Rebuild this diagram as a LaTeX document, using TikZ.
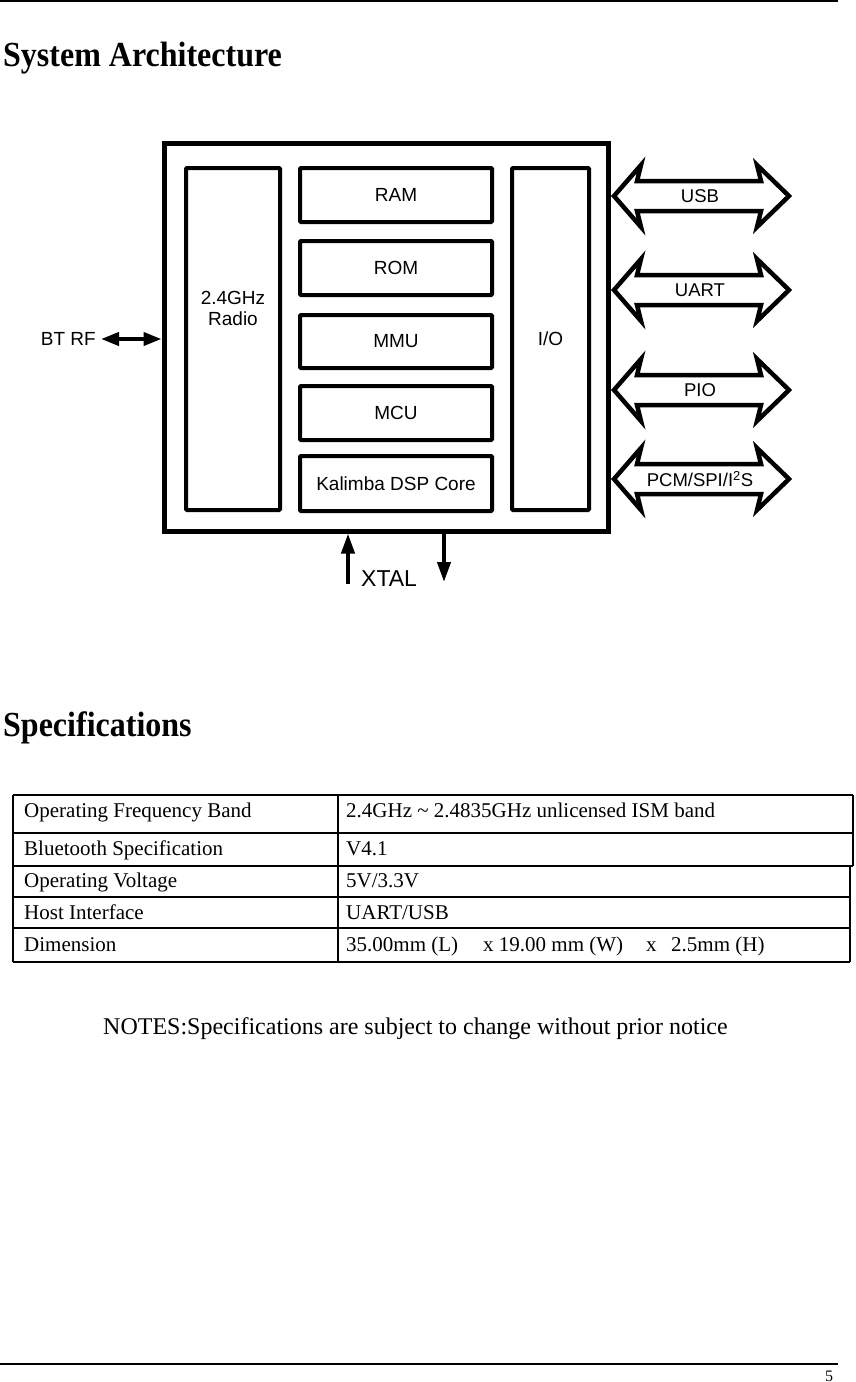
\documentclass[tikz,border=0pt]{standalone}
\usepackage{fontspec}
\setmainfont{Liberation Serif}
\newfontfamily\arialf{Liberation Sans}
\usetikzlibrary{arrows.meta}
\newcommand\bararrow[3]{%
  \draw[barrow] (614,#2) -- (641,#2-31) -- (637,#2-15) -- (761,#2-15) -- (757,#2-31) -- (789,#2)
     -- (757,#2+31) -- (761,#2+15) -- (637,#2+15) -- (641,#2+31) -- cycle;
  \node[albl] (#1) at (700,#2) {#3};}
\begin{document}
\begin{tikzpicture}[x=1pt,y=-1pt,
  blk/.style={draw, line width=4pt, rounded corners=1pt, inner sep=0pt, font=\arialf\fontsize{19}{21}\selectfont, align=center},
  lbl/.style={inner sep=0pt, font=\arialf\fontsize{19}{21}\selectfont, align=center},
  albl/.style={inner sep=0pt, font=\arialf\fontsize{18.5}{21}\selectfont, align=center},
  headtxt/.style={inner sep=0pt, anchor=base west, font=\bfseries\fontsize{32}{36}\selectfont},
  cell/.style={inner sep=0pt, anchor=base west, font=\fontsize{21}{24}\selectfont},
  barrow/.style={line width=4.5pt, line join=miter, fill=white},
  rfarrow/.style={line width=4pt, {Triangle[length=18pt,width=13pt]}-{Triangle[length=18pt,width=13pt]}},
  xarrow/.style={line width=4pt, -{Triangle[length=20pt,width=13pt]}},
  tline/.style={line width=2.5pt},
  pline/.style={line width=2pt}
]
\fill[white] (0,0) rectangle (855,1382);
\useasboundingbox (0,0) rectangle (855,1382);

% page rules
\draw[pline] (0,1) -- (838,1);
\draw[pline] (0,1364) -- (838,1364);
\node[inner sep=0pt, anchor=base west, font=\fontsize{16}{18}\selectfont] (pnum) at (825,1381) {5};

% headings
\node[headtxt] (h1) at (3,66) {\scalebox{1}[1.1]{System Architecture}};
\node[headtxt] (h2) at (3,736) {\scalebox{1}[1.1]{Specifications}};

% diagram
\node[draw, line width=5pt, minimum width=444pt, minimum height=388pt, inner sep=0pt] (outer) at (386,337) {};
\node[blk, minimum width=94pt, minimum height=342pt] (radio) at (233,339) {};
\node[lbl] (radiot) at (233,308) {2.4GHz\\Radio};
\node[blk, minimum width=192pt, minimum height=54pt] (ram) at (396,195) {RAM};
\node[blk, minimum width=192pt, minimum height=54pt] (rom) at (396,268) {ROM};
\node[blk, minimum width=192pt, minimum height=53pt] (mmu) at (396,341.5) {MMU};
\node[blk, minimum width=192pt, minimum height=54pt] (mcu) at (396,413) {MCU};
\node[blk, minimum width=192pt, minimum height=55pt] (dsp) at (396,483.5) {Kalimba DSP Core};
\node[blk, minimum width=77pt, minimum height=342pt] (io) at (550.5,339) {I/O};

\bararrow{usb}{196}{USB}
\bararrow{uart}{290}{UART}
\bararrow{pio}{390}{PIO}
\bararrow{pcm}{479}{PCM/SPI/I\textsuperscript{2}S}

\node[lbl, anchor=east] (btrf) at (96,339) {BT RF};
\draw[rfarrow] ([xshift=5pt]btrf.east) -- (btrf.east -| outer.west);

\node[inner sep=0pt, anchor=base west, font=\arialf\fontsize{23}{26}\selectfont] (xtal) at (361,586) {XTAL};
\coordinate (xin) at (348,584);
\coordinate (xout) at (444,582);
\draw[xarrow] (xin) -- (xin |- outer.south);
\draw[xarrow] (xout |- outer.south) -- (xout);

% table
\draw[tline] (13,795) -- (853,795);
\draw[tline] (13,795) -- (13,962);
\draw[tline] (853,795) -- (853,866);
\draw[tline] (850,866) -- (850,962);
\draw[tline] (13,962) -- (850,962);
\draw[tline] (338,795) -- (338,962);
\draw[tline] (13,833) -- (853,833);
\draw[tline] (13,866) -- (853,866);
\draw[tline] (13,897) -- (850,897);
\draw[tline] (13,928) -- (850,928);

\node[cell] (k1) at (24,817) {Operating Frequency Band};
\node[cell] (v1) at (346,817) {2.4GHz \textasciitilde{} 2.4835GHz unlicensed ISM band};
\node[cell] (k2) at (24,855) {Bluetooth Specification};
\node[cell] (v2) at (346,855) {V4.1};
\node[cell] (k3) at (24,887) {Operating Voltage};
\node[cell] (v3) at (346,887) {5V/3.3V};
\node[cell] (k4) at (24,919) {Host Interface};
\node[cell] (v4) at (346,919) {UART/USB};
\node[cell] (k5) at (24,951) {Dimension};
\node[cell] (v5) at (346,951) {\makebox[137pt][l]{35.00mm (L)}\makebox[163pt][l]{x 19.00 mm (W)}\makebox[25pt][l]{x}2.5mm (H)};

\node[inner sep=0pt, anchor=base west, font=\fontsize{24}{28}\selectfont] (notes) at (103,1034) {NOTES:Specifications are subject to change without prior notice};
\end{tikzpicture}
\end{document}
